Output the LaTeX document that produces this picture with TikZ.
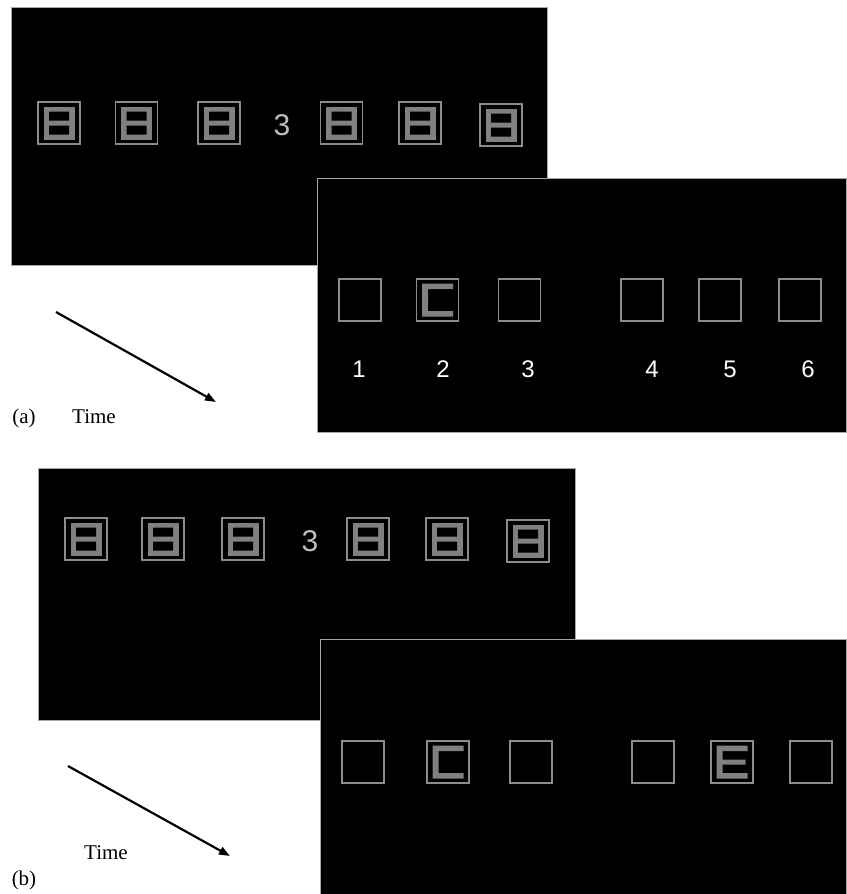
\documentclass[tikz,border=0pt]{standalone}
\usepackage{fontspec}
\setmainfont{Liberation Serif}
\newfontfamily\digitfont{Liberation Sans}
\usetikzlibrary{arrows.meta}
\definecolor{figgray}{HTML}{808080}
\definecolor{boxgray}{HTML}{8C8C8C}
\definecolor{cuegray}{HTML}{BDBDBD}

\begin{document}
\begin{tikzpicture}[x=1pt, y=-1pt,
  panel/.style={fill=black, draw=black!35, line width=1pt},
  frame/.style={draw=boxgray, line width=1.5pt},
  cue/.style={text=cuegray, font=\digitfont\fontsize{30}{30}\selectfont, anchor=base, inner sep=0pt},
  num/.style={text=white, font=\digitfont\fontsize{24}{24}\selectfont, anchor=base, inner sep=0pt},
  lbl/.style={font=\fontsize{21}{21}\selectfont, anchor=base, inner sep=0pt},
  timearrow/.style={-{Triangle[length=11pt,width=8pt]}, line width=2.2pt},
  empty/.pic={\draw[frame] (-21,-21) rectangle (21,21);},
  eight/.pic={\fill[figgray] (-15.5,-16.5) rectangle (15.5,16.5);
    \fill[black] (-10,-11.5) rectangle (10,-2.5) (-10,2.5) rectangle (10,11.5);
    \draw[frame] (-21,-21) rectangle (21,21);},
  cshape/.pic={\fill[figgray] (-15.5,-16.5) rectangle (15.5,-11) (-15.5,11) rectangle (15.5,16.5)
      (-15.5,-11) rectangle (-9.5,11);
    \draw[frame] (-21,-21) rectangle (21,21);},
  eshape/.pic={\fill[figgray] (-15.5,-16.5) rectangle (15.5,-11) (-15.5,11) rectangle (15.5,16.5)
      (-15.5,-2.5) rectangle (13.5,2.5) (-15.5,-11) rectangle (-9.5,11);
    \draw[frame] (-21,-21) rectangle (21,21);}]
\useasboundingbox (0,0) rectangle (846,894);
% (a) cue display, then probe display
\draw[panel] (11,7) rectangle (547,265);
\foreach \px in {59,136.5,219,341.5,420} \pic at (\px,123) {eight};
\pic at (501,125) {eight};
\node[cue] (cueA) at (282,135) {3};
\draw[panel] (317,178) rectangle (846,432);
\foreach \px in {360,519.5,642,720,800} \pic at (\px,300) {empty};
\pic at (437.5,300) {cshape};
\foreach \px/\n in {359/1,443/2,528/3,652/4,730/5,808/6}
  \node[num] (numA\n) at (\px,377) {\n};
\coordinate (ta0) at (56,312); \coordinate (ta1) at (216,402);
\draw[timearrow] (ta0) -- (ta1);
\node[lbl] (tagA) at (24,423) {(a)};
\node[lbl] (timeA) at (94,423) {Time};
% (b) cue display, then probe display
\draw[panel] (38,468) rectangle (575,720);
\foreach \px in {86,163,243,368,447} \pic at (\px,539) {eight};
\pic at (528,541) {eight};
\node[cue] (cueB) at (310,551) {3};
\draw[panel] (320,639) rectangle (846,894);
\foreach \px in {363,531,653,811} \pic at (\px,762) {empty};
\pic at (448,762) {cshape};
\pic at (732,762) {eshape};
\coordinate (tb0) at (68,766); \coordinate (tb1) at (230,856);
\draw[timearrow] (tb0) -- (tb1);
\node[lbl] (timeB) at (106,859) {Time};
\node[lbl] (tagB) at (24,885) {(b)};
\end{tikzpicture}
\end{document}
